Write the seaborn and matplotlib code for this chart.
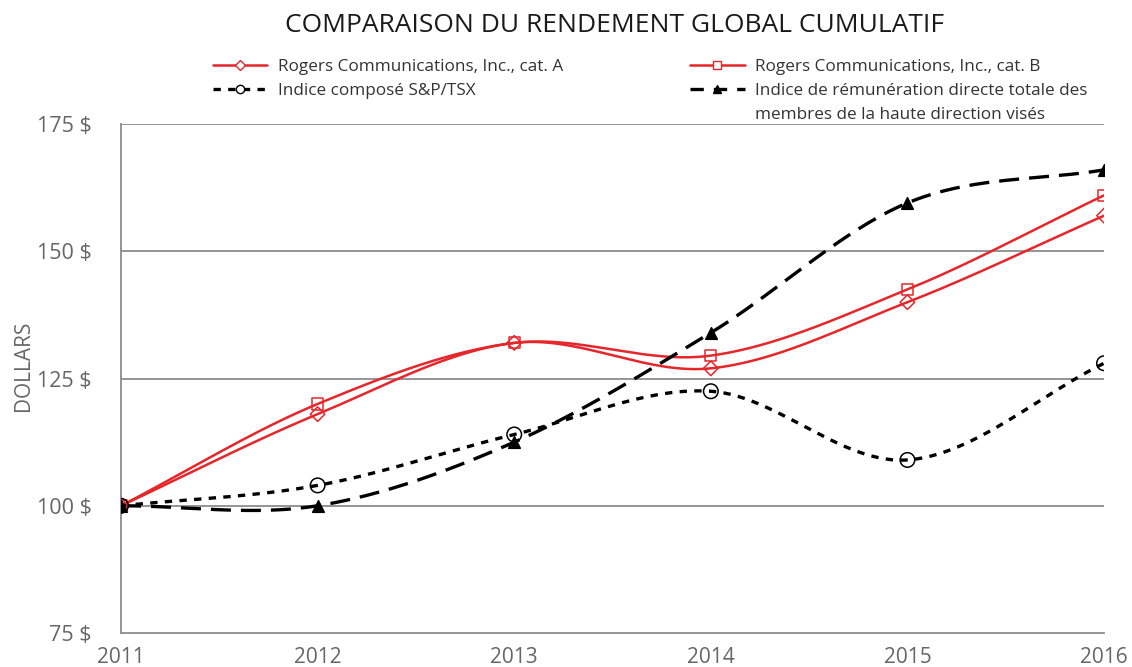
import numpy as np
import pandas as pd
import matplotlib
matplotlib.use("Agg")
import matplotlib.pyplot as plt
import seaborn as sns
from matplotlib.lines import Line2D

years = [2011, 2012, 2013, 2014, 2015, 2016]
rogers_a = [100, 118, 132, 127, 140, 157]
rogers_b = [100, 120, 132, 129.5, 142.5, 161]
sptsx = [100, 104, 114, 122.5, 109, 128]
neo_index = [100, 100, 112.5, 134, 159.5, 166]
y_ticks = [75, 100, 125, 150, 175]

label_a = "Rogers Communications, Inc., cat. A"
label_b = "Rogers Communications, Inc., cat. B"
label_tsx = "Indice composé S&P/TSX"
label_neo = "Indice de rémunération directe totale des"
label_neo_2 = "membres de la haute direction visés"

RED = "#e5262b"
GREY = "#666666"


def smooth(x, y, n=60):
    # cubic Hermite curve through the points (smoothed line, like the source)
    x = np.asarray(x, float)
    y = np.asarray(y, float)
    m = np.zeros_like(y)
    m[1:-1] = (y[2:] - y[:-2]) / (x[2:] - x[:-2])
    m[0] = (y[1] - y[0]) / (x[1] - x[0])
    m[-1] = (y[-1] - y[-2]) / (x[-1] - x[-2])
    xs, ys = [], []
    for i in range(len(x) - 1):
        h = x[i + 1] - x[i]
        t = np.linspace(0, 1, n, endpoint=(i == len(x) - 2))
        h00 = 2 * t**3 - 3 * t**2 + 1
        h10 = t**3 - 2 * t**2 + t
        h01 = -2 * t**3 + 3 * t**2
        h11 = t**3 - t**2
        xs.append(x[i] + t * h)
        ys.append(h00 * y[i] + h10 * h * m[i] + h01 * y[i + 1] + h11 * h * m[i + 1])
    return pd.DataFrame({"x": np.concatenate(xs), "y": np.concatenate(ys)})


sns.set_theme(style="white")
plt.rcParams["font.family"] = ["Open Sans", "DejaVu Sans"]

fig = plt.figure(figsize=(11.32, 6.67), dpi=100)
ax = fig.add_axes([0.1069, 0.051, 0.8684, 0.763])

series = [
    (rogers_a, RED, "-", "D", 55, "none"),
    (rogers_b, RED, "-", "s", 65, "none"),
    (sptsx, "black", (0, (2.2, 2.2)), "o", 110, "none"),
    (neo_index, "black", (0, (6, 3)), "^", 70, "black"),
]
for vals, col, ls, mk, sz, fc in series:
    lw = 1.8 if col == RED else 2.4
    d = smooth(years, vals)
    sns.lineplot(data=d, x="x", y="y", sort=False, color=col, linewidth=lw,
                 linestyle=ls, ax=ax, zorder=3)
    sns.scatterplot(x=years, y=vals, marker=mk, s=sz, color=col, facecolor=fc,
                    edgecolor=col, linewidth=1.1, ax=ax, zorder=4)

ax.set_xlim(2011, 2016)
ax.set_ylim(75, 175)
ax.set_xticks(years)
ax.set_yticks(y_ticks)
ax.set_yticklabels([f"{v} $" for v in y_ticks])
ax.set_xlabel("")
ax.set_ylabel("DOLLARS", fontsize=15, color=GREY)
ax.yaxis.set_label_coords(-0.089, 0.525)
for v in y_ticks[1:]:
    ax.axhline(v, color="#8c8c8c", linewidth=1.3, zorder=1)
for s in ["top", "right"]:
    ax.spines[s].set_visible(False)
for s in ["left", "bottom"]:
    ax.spines[s].set_color("#8c8c8c")
    ax.spines[s].set_linewidth(1.3)
ax.tick_params(axis="y", length=6, width=1.3, color="#8c8c8c", labelsize=15.5,
               labelcolor=GREY, pad=15)
ax.tick_params(axis="x", direction="inout", length=8, width=1.3, color="#8c8c8c",
               labelsize=15, labelcolor=GREY, pad=6)

fig.text(0.543, 0.962, "COMPARAISON DU RENDEMENT GLOBAL CUMULATIF", ha="center",
         va="center", fontsize=19, color="#1a1a1a")

h_a = Line2D([], [], color=RED, lw=1.8, marker="D", markersize=5, markerfacecolor="white")
h_b = Line2D([], [], color=RED, lw=1.8, marker="s", markersize=6, markerfacecolor="white")
h_t = Line2D([], [], color="black", lw=2.4, ls=(0, (2.2, 2.2)), marker="o",
             markersize=6, markerfacecolor="white")
h_n = Line2D([], [], color="black", lw=2.4, ls=(0, (4, 3)), marker="^", markersize=6)

common = dict(frameon=False, fontsize=12.3, handlelength=3.2, handletextpad=0.6,
              labelspacing=0.5, loc="upper left", labelcolor="#333333",
              borderpad=0, borderaxespad=0)
leg1 = fig.legend([h_a, h_t], [label_a, label_tsx], bbox_to_anchor=(0.188, 0.912), **common)
leg2 = fig.legend([h_b, h_n], [label_b, label_neo], bbox_to_anchor=(0.6095, 0.912), **common)

# second line of the last legend entry, set under its first line
fig.canvas.draw()
bb = leg2.get_texts()[1].get_window_extent().transformed(fig.transFigure.inverted())
fig.text(bb.x0, bb.y0 - 0.035, label_neo_2, ha="left", va="bottom",
         fontsize=12.3, color="#333333")

fig.savefig("out.png", dpi=100)
